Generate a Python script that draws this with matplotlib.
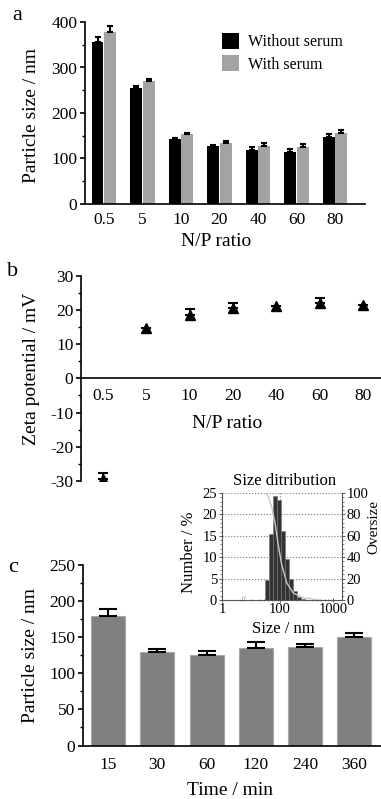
import numpy as np
import matplotlib
matplotlib.use("Agg")
import matplotlib.pyplot as plt
from matplotlib.ticker import MultipleLocator, FixedLocator

plt.rcParams['font.family'] = ['Liberation Serif', 'DejaVu Serif']
plt.rcParams['axes.unicode_minus'] = False

# panel a: particle size vs N/P ratio
np_labels = ['0.5', '5', '10', '20', '40', '60', '80']
size_no_serum = [356, 254, 142, 128, 119, 115, 148]
err_no_serum = [12, 5, 3, 2, 6, 6, 6]
size_serum = [377, 270, 153, 135, 128, 126, 157]
err_serum = [15, 5, 4, 2.5, 5, 5, 5]

# panel b: zeta potential (0 = no visible error bar)
zeta = [-29.4, 14.8, 18.5, 20.7, 21.0, 22.0, 21.4]
zeta_err = [1.7, 0, 1.8, 1.4, 0, 1.4, 0]

# panel c: size vs time
time_labels = ['15', '30', '60', '120', '240', '360']
size_time = [179, 129, 126, 135.5, 137, 150]
err_time = [10, 4.6, 5, 8, 3.5, 6]

# inset: size distribution
hist_edges = [52.2, 62.0, 73.8, 87.8, 104.4, 124.2, 147.8, 175.8, 209.2, 249, 296, 352]
hist_number = [4.6, 15.4, 24.3, 23.4, 16.2, 9.5, 5.0, 2.0, 0.8, 0.3, 0.1]
over_size = [50, 57.5, 69.7, 80.5, 92.9, 107.7, 133.8, 178, 275, 570]
over_pct = [100, 99, 87, 72, 51, 33, 16, 6.5, 2, 0]

W, H = 381, 799
fig = plt.figure(figsize=(W / 100, H / 100), dpi=100)

def box(l, r, t, b):
    return [l / W, 1 - b / H, (r - l) / W, (b - t) / H]

def style(ax, minor):
    for s in ['top', 'right']:
        ax.spines[s].set_visible(False)
    for s in ['left', 'bottom']:
        ax.spines[s].set_linewidth(1.2)
    ax.yaxis.set_minor_locator(MultipleLocator(minor))
    ax.tick_params(axis='y', which='major', direction='out', length=3.5, width=1.2, labelsize=12.5, pad=2)
    ax.tick_params(axis='y', which='minor', direction='out', length=2, width=1.0)
    ax.tick_params(axis='x', length=0, labelsize=12.5, pad=6)

# ---- a ----
ax = fig.add_axes(box(85, 365, 22, 204))
x = np.arange(len(np_labels))
w = 0.31
ax.bar(x - 0.165, size_no_serum, w, color='black', label='Without serum',
       yerr=[np.zeros(len(x)), err_no_serum], capsize=2.5,
       error_kw=dict(ecolor='black', elinewidth=1.5, capthick=1.5))
ax.bar(x + 0.165, size_serum, w, color='#a3a3a3', label='With serum',
       yerr=[np.zeros(len(x)), err_serum], capsize=2.5,
       error_kw=dict(ecolor='black', elinewidth=1.5, capthick=1.5))
ax.set_xlim(-0.49, 6.78)
ax.set_ylim(0, 400)
ax.set_xticks(x)
ax.set_xticklabels(np_labels)
ax.set_yticks([0, 100, 200, 300, 400])
style(ax, 50)
ax.set_xlabel('N/P ratio', fontsize=14)
ax.xaxis.set_label_coords(0.47, -0.16)
ax.xaxis.label.set_va('top')
ax.set_ylabel('Particle size / nm', fontsize=14)
ax.yaxis.set_label_coords(-0.16, 0.486)
ax.legend(loc='upper left', bbox_to_anchor=(0.46, 0.985), frameon=False, fontsize=11.5,
          handlelength=1.05, handleheight=1.2, handletextpad=0.6, labelspacing=0.3, borderpad=0)
fig.text(17 / W, 1 - 15 / H, 'a', fontsize=16, ha='center', va='center')

# ---- b ----
ax = fig.add_axes(box(81, 381, 275.7, 481))
xb = np.arange(len(np_labels))
up = np.array(zeta_err, dtype=float)
up[up == 0] = np.nan
ax.errorbar(xb, zeta, yerr=[np.zeros(len(xb)), up], fmt='^', color='black',
            markersize=7, capsize=3.5, elinewidth=1.3, capthick=1.5)
ax.set_xlim(-0.508, 6.42)
ax.set_ylim(-30, 30)
ax.set_xticks(xb)
ax.set_xticklabels(np_labels)
ax.set_yticks([-30, -20, -10, 0, 10, 20, 30])
style(ax, 5)
ax.spines['bottom'].set_position(('data', 0))
ax.tick_params(axis='x', pad=7)
ax.set_xlabel('N/P ratio', fontsize=14)
ax.xaxis.set_label_coords(0.487, 0.321)
ax.xaxis.label.set_va('top')
ax.set_ylabel('Zeta potential / mV', fontsize=14)
ax.yaxis.set_label_coords(-0.137, 0.545)
fig.text(13 / W, 1 - 272 / H, 'b', fontsize=16, ha='center', va='center')

# ---- c ----
ax = fig.add_axes(box(83, 381, 565, 745.5))
xc = np.arange(len(time_labels))
ax.bar(xc, size_time, 0.69, color='#808080', edgecolor='#a8a8a8', linewidth=0.8,
       yerr=[np.zeros(len(xc)), err_time], capsize=6.5,
       error_kw=dict(ecolor='black', elinewidth=1.5, capthick=1.5))
ax.set_xlim(-0.507, 5.54)
ax.set_ylim(0, 250)
ax.set_xticks(xc)
ax.set_xticklabels(time_labels)
ax.set_yticks([0, 50, 100, 150, 200, 250])
style(ax, 25)
ax.tick_params(axis='x', pad=8)
ax.set_xlabel('Time / min', fontsize=14)
ax.xaxis.set_label_coords(0.493, -0.2)
ax.xaxis.label.set_va('top')
ax.set_ylabel('Particle size / nm', fontsize=14)
ax.yaxis.set_label_coords(-0.149, 0.5)
fig.text(13 / W, 1 - 568 / H, 'c', fontsize=16, ha='center', va='center')

# ---- inset ----
BRK = 20.0
K = 0.3046
LB = np.log10(BRK)

def fwd(v):
    lv = np.log10(np.clip(v, 1e-6, None))
    return np.where(lv < LB, LB - (LB - lv) * K, lv)

def inv(v):
    v = np.asarray(v, dtype=float)
    return np.where(v < LB, 10 ** (LB - (LB - v) / K), 10 ** v)

ins = fig.add_axes(box(222, 342, 493, 600))
ins.set_xscale('function', functions=(fwd, inv))
ins.bar(hist_edges[:-1], hist_number, width=np.diff(hist_edges), align='edge',
        color='#333333', edgecolor='#777777', linewidth=0.4, zorder=3)
ins.set_xlim(1, 1480)
ins.set_ylim(0, 25)
ins.set_xticks([1, 100, 1000])
ins.set_xticklabels(['1', '100', '1000'])
ins.xaxis.set_minor_locator(FixedLocator([m * d for d in (10, 100) for m in range(2, 10)
                                          if m * d > BRK]))
ins.set_yticks([0, 5, 10, 15, 20, 25])
ins.yaxis.set_minor_locator(MultipleLocator(1))
for yv in [5, 10, 15, 20, 25]:
    ins.axhline(yv, color='#777777', ls=':', lw=0.8, zorder=1)
ins.axvline(100, color='#777777', ls=':', lw=0.8, zorder=1)
ins.spines['top'].set_visible(False)
ins.spines['right'].set_visible(False)
for s in ['left', 'bottom']:
    ins.spines[s].set_color('#555555')
    ins.spines[s].set_linewidth(0.8)
ins.tick_params(axis='both', which='major', labelsize=10.5, length=2.5, width=0.7, color='#555555', pad=1)
ins.tick_params(axis='x', which='both', direction='inout')
ins.tick_params(axis='both', which='minor', length=1.5, width=0.5, color='#555555')
ins.text(BRK, 0, '//', fontsize=6, color='#555555', ha='center', va='center', zorder=5)
ins.set_xlabel('Size / nm', fontsize=12)
ins.xaxis.set_label_coords(0.51, -0.2)
ins.xaxis.label.set_va('top')
ins.set_ylabel('Number / %', fontsize=12)
ins.yaxis.set_label_coords(-0.21, 0.444)
ins.text(0.525, 1.075, 'Size ditribution', transform=ins.transAxes, fontsize=12,
         ha='center', va='baseline')

ins2 = ins.twinx()
ins2.plot(over_size, over_pct, color='#c8c8c8', lw=1.0, zorder=4)
ins2.set_ylim(0, 100)
ins2.set_yticks([0, 20, 40, 60, 80, 100])
ins2.yaxis.set_minor_locator(MultipleLocator(4))
ins2.spines['top'].set_visible(False)
ins2.spines['left'].set_visible(False)
ins2.spines['bottom'].set_visible(False)
ins2.spines['right'].set_color('#555555')
ins2.spines['right'].set_linewidth(0.8)
ins2.tick_params(axis='y', which='major', labelsize=10.5, length=2.5, width=0.7, color='#555555', pad=1)
ins2.tick_params(axis='y', which='minor', length=1.5, width=0.5, color='#555555')
fig.text(380 / W, 1 - 526.5 / H, 'Oversize', rotation=90, fontsize=11, ha='right', va='center')

fig.savefig('out.png', dpi=100)
